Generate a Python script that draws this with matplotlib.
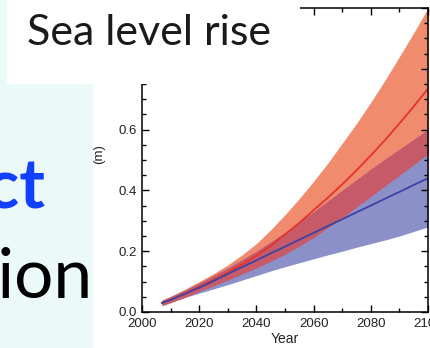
import matplotlib.pyplot as plt
from matplotlib.patches import Rectangle
import numpy as np

# projected sea level rise (m)
years = [2007, 2010, 2015, 2020, 2025, 2030, 2035, 2040, 2045, 2050,
         2055, 2060, 2065, 2070, 2075, 2080, 2085, 2090, 2095, 2100]
high_mid = [0.03, 0.04, 0.06, 0.083, 0.105, 0.13, 0.157, 0.185, 0.218, 0.255,
            0.293, 0.335, 0.376, 0.42, 0.466, 0.515, 0.566, 0.62, 0.676, 0.735]
high_upper = [0.04, 0.052, 0.075, 0.10, 0.126, 0.155, 0.188, 0.225, 0.27, 0.32,
              0.373, 0.43, 0.49, 0.555, 0.62, 0.69, 0.763, 0.84, 0.918, 1.0]
high_lower = [0.02, 0.03, 0.048, 0.068, 0.086, 0.105, 0.125, 0.145, 0.167, 0.19,
              0.217, 0.245, 0.277, 0.31, 0.345, 0.38, 0.415, 0.45, 0.485, 0.52]
low_mid = [0.03, 0.04, 0.06, 0.08, 0.102, 0.125, 0.148, 0.17, 0.193, 0.215,
           0.238, 0.26, 0.283, 0.305, 0.328, 0.35, 0.373, 0.395, 0.418, 0.44]
low_upper = [0.038, 0.05, 0.072, 0.095, 0.12, 0.145, 0.172, 0.2, 0.23, 0.262,
             0.295, 0.33, 0.365, 0.40, 0.435, 0.47, 0.503, 0.535, 0.568, 0.60]
low_lower = [0.022, 0.032, 0.048, 0.062, 0.076, 0.09, 0.105, 0.12, 0.135, 0.149,
             0.162, 0.175, 0.188, 0.2, 0.213, 0.225, 0.237, 0.25, 0.265, 0.28]

W, H = 431, 348
fig = plt.figure(figsize=(W / 100, H / 100), dpi=100)

def box(x0, y0, x1, y1, color, z):
    # pixel box (top-left origin) -> figure fraction
    r = Rectangle((x0 / W, 1 - y1 / H), (x1 - x0) / W, (y1 - y0) / H,
                  transform=fig.transFigure, facecolor=color, edgecolor='none', zorder=z)
    fig.add_artist(r)

cyan = '#ecf9f9'
box(0, 0, 7, 83, cyan, 0)
box(0, 83, 93, H, cyan, 0)

ax = fig.add_axes([142 / W, 1 - 312 / H, 286 / W, 304 / H])
ax.patch.set_alpha(0)

x = np.array(years)
hu, hl = np.array(high_upper), np.array(high_lower)
lu, ll = np.array(low_upper), np.array(low_lower)
ax.fill_between(x, hl, hu, color='#f08b6d', linewidth=0)
ax.fill_between(x, ll, lu, color='#8c90c9', linewidth=0)
ov_lo = np.maximum(hl, ll)
ov_hi = np.minimum(hu, lu)
ax.fill_between(x, ov_lo, ov_hi, where=ov_hi > ov_lo, color='#c65a69', linewidth=0)
ax.plot(x, high_mid, color='#e8322a', lw=1.3)
ax.plot(x, low_mid, color='#3e42a3', lw=1.3)

ax.set_xlim(2000, 2100)
ax.set_ylim(0, 1.0)
ax.set_xticks(range(2000, 2101, 20))
ax.set_xticks(range(2010, 2100, 20), minor=True)
ax.set_yticks(np.arange(0, 1.01, 0.2))
ax.set_yticks(np.arange(0.05, 1.0, 0.05), minor=True)
ax.yaxis.set_major_formatter(plt.FormatStrFormatter('%.1f'))
ax.tick_params(which='both', direction='in', top=True, right=True, width=1, color='black')
ax.tick_params(which='major', length=5, labelsize=9.5, pad=3.5)
ax.tick_params(axis='x', which='major', pad=4)
ax.tick_params(which='minor', length=3)
for lab in ax.get_xticklabels() + ax.get_yticklabels():
    lab.set_family('Liberation Sans')
    lab.set_color('#222222')
for s in ax.spines.values():
    s.set_linewidth(1.1)
ax.set_xlabel('Year', family='Liberation Sans', fontsize=10, color='#222222', labelpad=2)
ax.set_ylabel('(m)', family='Liberation Sans', fontsize=9.5, color='#222222')
ax.yaxis.set_label_coords(-0.128, 0.52)

# slide pieces in front of the chart
box(7, 0, 300, 84, 'white', 5)
fig.text(27 / W, 1 - 45 / H, 'Sea level rise', family='Lato', fontsize=31,
         color='#1a1a1a', ha='left', va='baseline', zorder=6)
fig.text(45 / W, 1 - 208 / H, 'Impact', family='Lato', fontweight='bold', fontsize=50,
         color='#1240ff', ha='right', va='baseline', zorder=6)
fig.text(93 / W, 1 - 298 / H, 'Adaptation', family='Lato', fontsize=50,
         color='black', ha='right', va='baseline', zorder=6)

fig.savefig('out.png', dpi=100)
